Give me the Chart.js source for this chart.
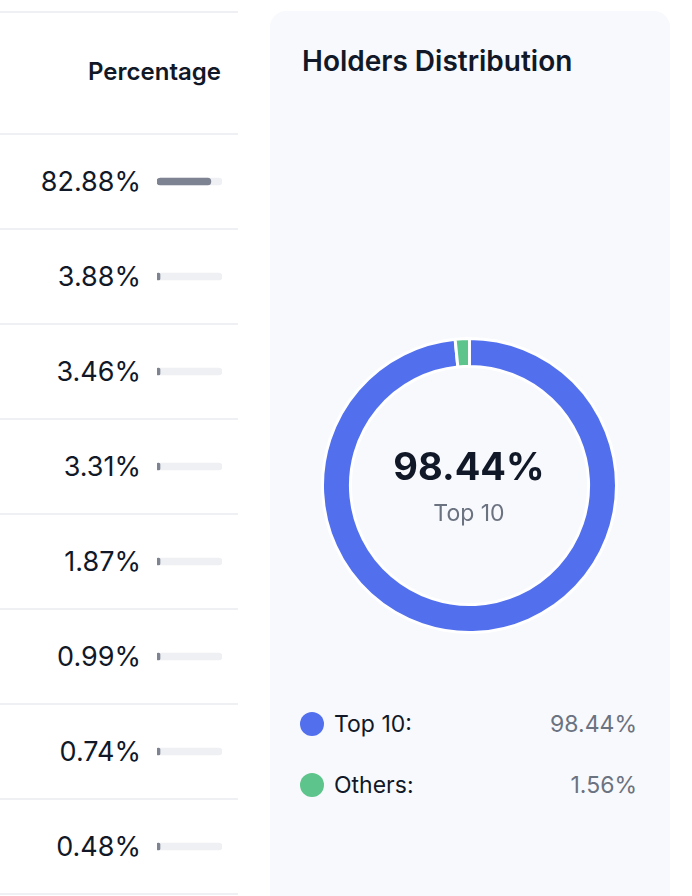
<!DOCTYPE html>
<html>
<head>
<meta charset="utf-8">
<script src="https://cdn.jsdelivr.net/npm/chart.js@4.4.1/dist/chart.umd.min.js"></script>
<style>
  html, body { margin: 0; padding: 0; background: #ffffff; }
  body { width: 692px; height: 896px; position: relative; overflow: hidden; font-family: Inter, "Noto Sans", sans-serif; color: #111827; }
  .line { position: absolute; left: 0; width: 238px; height: 2px; background: #eff0f3; }
  .txt { position: absolute; line-height: 1; white-space: nowrap; }
  .head { right: 471px; font-size: 24px; font-weight: 600; }
  .val { right: 551px; font-size: 27px; font-weight: 400; }
  #barWrap { position: absolute; left: 157px; top: 134px; width: 65px; height: 760px; }
  .card { position: absolute; left: 270px; top: 11px; width: 400px; height: 920px; background: #f8f9fd; border-radius: 16px; }
  .title { left: 302px; font-size: 28px; font-weight: 600; }
  #donutWrap { position: absolute; left: 321px; top: 337px; width: 297px; height: 297px; }
  .center-big { left: 319px; width: 300px; text-align: center; font-size: 38px; font-weight: 700; }
  .center-small { left: 319px; width: 300px; text-align: center; font-size: 23px; color: #6b7280; }
  .dot { position: absolute; left: 300px; width: 24px; height: 24px; border-radius: 50%; }
  .leg-label { left: 334px; font-size: 23px; }
  .leg-val { right: 55px; font-size: 23px; color: #6b7280; }
</style>
</head>
<body>
<div class="line" style="top:11px"></div>
<div class="txt head" style="top:60px">Percentage</div>
<div id="rows"></div>
<div id="barWrap"><canvas id="shareBars"></canvas></div>

<div class="card"></div>
<div class="txt title" style="top:47px">Holders Distribution</div>
<div id="donutWrap"><canvas id="holdersDonut"></canvas></div>
<div class="txt center-big" id="centerBig" style="top:447px"></div>
<div class="txt center-small" id="centerSmall" style="top:502px"></div>
<div id="legend"></div>

<script>
// holder shares (%) shown in the table
const holderRanks = ['1', '2', '3', '4', '5', '6', '7', '8'];
const holderShares = [82.88, 3.88, 3.46, 3.31, 1.87, 0.99, 0.74, 0.48];

// distribution doughnut
const distLabels = ['Top 10', 'Others'];
const distValues = [98.44, 1.56];
const distColors = ['#5270ee', '#5dc58b'];

const scaleMax = 100;

// table rows: text + separators
const rowTop = 134;
const rowH = 95;
const rowsEl = document.getElementById('rows');
holderShares.forEach((v, i) => {
    const line = document.createElement('div');
    line.className = 'line';
    line.style.top = (rowTop - 1 + i * rowH) + 'px';
    rowsEl.appendChild(line);

    const t = document.createElement('div');
    t.className = 'txt val';
    t.style.top = (rowTop + i * rowH + rowH / 2 - 14) + 'px';
    t.textContent = v.toFixed(2) + '%';
    rowsEl.appendChild(t);
});
const lastLine = document.createElement('div');
lastLine.className = 'line';
lastLine.style.top = (rowTop - 1 + holderShares.length * rowH) + 'px';
rowsEl.appendChild(lastLine);

// progress bars
new Chart(document.getElementById('shareBars'), {
    type: 'bar',
    data: {
        labels: holderRanks,
        datasets: [
            {
                data: holderShares,
                backgroundColor: '#7e8392',
                barThickness: 7,
                borderRadius: 4,
                borderSkipped: false,
                minBarLength: 3,
                grouped: false
            },
            {
                data: holderShares.map(() => scaleMax),
                backgroundColor: '#eff0f4',
                barThickness: 7,
                borderRadius: 4,
                borderSkipped: false,
                grouped: false
            }
        ]
    },
    options: {
        indexAxis: 'y',
        responsive: true,
        maintainAspectRatio: false,
        animation: false,
        layout: { padding: 0 },
        scales: {
            x: { display: false, min: 0, max: scaleMax },
            y: { display: false }
        },
        plugins: { legend: { display: false }, tooltip: { enabled: false } }
    }
});

// doughnut
new Chart(document.getElementById('holdersDonut'), {
    type: 'doughnut',
    data: {
        labels: distLabels,
        datasets: [{
            data: distValues,
            backgroundColor: distColors,
            borderColor: '#ffffff',
            borderWidth: 3,
            hoverOffset: 0
        }]
    },
    options: {
        responsive: true,
        maintainAspectRatio: false,
        animation: false,
        cutout: '81%',
        layout: { padding: 0 },
        plugins: { legend: { display: false }, tooltip: { enabled: false } }
    }
});

document.getElementById('centerBig').textContent = distValues[0].toFixed(2) + '%';
document.getElementById('centerSmall').textContent = distLabels[0];

// legend
const legendEl = document.getElementById('legend');
const legendY = [724, 785];
distLabels.forEach((lab, i) => {
    const dot = document.createElement('div');
    dot.className = 'dot';
    dot.style.top = (legendY[i] - 12) + 'px';
    dot.style.background = distColors[i];
    legendEl.appendChild(dot);

    const l = document.createElement('div');
    l.className = 'txt leg-label';
    l.style.top = (legendY[i] - 11.5) + 'px';
    l.textContent = lab + ':';
    legendEl.appendChild(l);

    const v = document.createElement('div');
    v.className = 'txt leg-val';
    v.style.top = (legendY[i] - 11.5) + 'px';
    v.textContent = distValues[i].toFixed(2) + '%';
    legendEl.appendChild(v);
});
</script>
</body>
</html>
